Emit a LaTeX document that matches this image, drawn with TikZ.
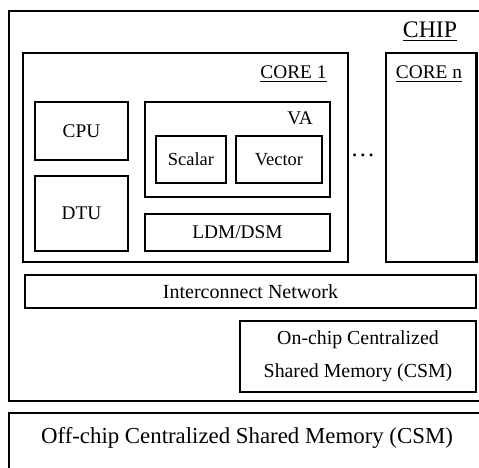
\documentclass[tikz,border=0pt]{standalone}
\usepackage{fontspec}
\setmainfont{Liberation Serif}
\usepackage{tikz}
\usetikzlibrary{positioning,fit}

\tikzset{
  box/.style={draw, rectangle, line width=1.6pt, inner sep=0pt},
  tag/.style={inner sep=0pt}
}

\begin{document}
\begin{tikzpicture}[x=0.02cm, y=-0.02cm]
            \clip (0,0) rectangle (479,467);
            % chip with cores
            \node[box, fit={(9,11) (495,401)}]                      (chip) {};
            \draw (430,32) node[tag, font=\fontsize{13.5}{15}\selectfont] (chiplbl) {\underline{CHIP}};
            \node[box, fit={(23,53) (348,262)}]                     (core1) {};
            \draw (293.5,74) node[tag, font=\fontsize{11}{13}\selectfont] (core1lbl) {\underline{CORE 1}};
            \node[box, fit={(386,53) (476.5,262)}]                  (coren) {};
            \draw (429,74) node[tag, font=\fontsize{11}{13}\selectfont] (corenlbl) {\underline{CORE n}};
            \draw (363,155) node[tag, font=\fontsize{14}{16}\selectfont] (dots) {…};
            % inside core 1
            \node[box, fit={(35,102) (128,160)}, label={[font=\fontsize{11}{13}\selectfont]center:CPU}]      (cpu) {};
            \node[box, fit={(35,176) (128,251)}, label={[font=\fontsize{11}{13}\selectfont]center:DTU}]      (dtu) {};
            \node[box, fit={(145,102) (330,197)}]                   (va) {};
            \draw (300,118) node[tag, font=\fontsize{11}{13}\selectfont] (valbl) {VA};
            \node[box, fit={(156,136) (226,183)}, label={[font=\fontsize{10.5}{12}\selectfont]center:Scalar}] (scalar) {};
            \node[box, fit={(236,136) (322,183)}, label={[font=\fontsize{10.5}{12}\selectfont]center:Vector}] (vector) {};
            \node[box, fit={(145,214) (330,251)}, label={[font=\fontsize{11}{13}\selectfont]center:LDM/DSM}]  (ldm) {};
            % network and memories
            \node[box, fit={(25,275) (476,308)}, label={[font=\fontsize{11.4}{13}\selectfont]center:Interconnect Network}] (net) {};
            \node[box, fit={(240,321) (476,392)}, label={[align=center, font=\fontsize{11.3}{19}\selectfont]center:On-chip Centralized\\Shared Memory (CSM)}] (onchip) {};
            \node[box, fit={(9,413) (495,490)}]                     (offchip) {};
            \draw (247,438) node[tag, font=\fontsize{13}{15}\selectfont] (offlbl) {Off-chip Centralized Shared Memory (CSM)};

            \end{tikzpicture}
\end{document}
